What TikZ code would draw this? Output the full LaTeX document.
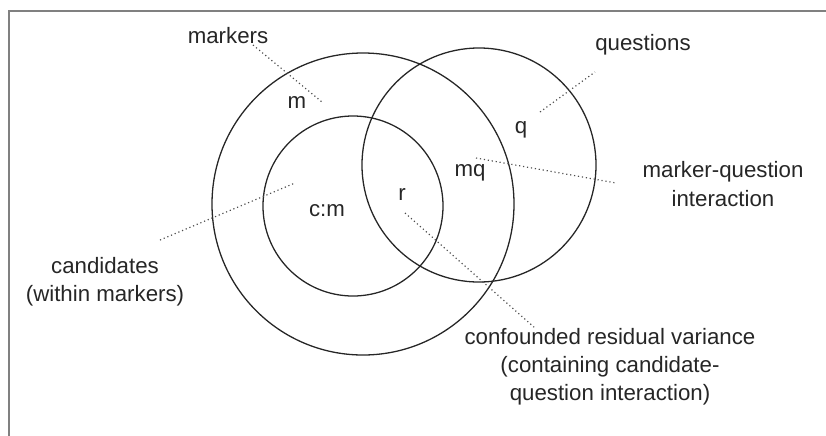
\documentclass[tikz,border=0pt]{standalone}
\usepackage{fontspec}
\setmainfont{Liberation Sans}
\usepackage{xcolor}
\usetikzlibrary{positioning}

\begin{document}
\begin{tikzpicture}[
  x=0.03cm,y=-0.03cm,
  set/.style={draw=black!85,line width=1.1pt,circle,inner sep=0pt,outer sep=0pt},
  lbl/.style={text=black!85,font=\fontsize{19}{24}\selectfont,align=center,inner sep=1pt},
  leader/.style={draw=black!70,line width=1pt,dash pattern=on 1pt off 2.4pt}
]
\useasboundingbox (0,0) rectangle (826,435);
\draw[gray,line width=1.8pt] (9,440) -- (9,11) -- (830,11);

% the three sets
\node[set,minimum size=9.06cm] (markers) at (363,204) {};
\node[set,minimum size=5.4cm] (cands) at (353,206) {};
\node[set,minimum size=7.02cm] (quest) at (479,165) {};

% region labels
\node[lbl] (m) at (297,103) {m};
\node[lbl] (cm) at (327,211) {c:m};
\node[lbl] (r) at (402,195) {r};
\node[lbl] (q) at (521,130) {q};
\node[lbl] (mq) at (470,173) {mq};

% outer labels
\node[lbl] (lmarkers) at (228,36) {markers};
\node[lbl] (lquest) at (643,45) {questions};
\node[lbl] (lmq) at (723,184) {marker-question\\interaction};
\node[lbl] (lcands) at (105,282) {candidates\\(within markers)};
\node[lbl] (lconf) at (610,367) {confounded residual variance\\(containing candidate-\\question interaction)};

\coordinate (markers-a) at (253,45);
\coordinate (markers-b) at (322,102);
\coordinate (cands-a) at (160,240);
\coordinate (cands-b) at (295,183);
\coordinate (quest-a) at (540,112);
\coordinate (quest-b) at (595,72);
\coordinate (mq-a) at (476,158);
\coordinate (mq-b) at (616,183);
\coordinate (conf-a) at (405,213);
\coordinate (conf-b) at (535,328);

\draw[leader] (markers-a) -- (markers-b);
\draw[leader] (cands-a) -- (cands-b);
\draw[leader] (quest-a) -- (quest-b);
\draw[leader] (mq-a) -- (mq-b);
\draw[leader] (conf-a) -- (conf-b);
\end{tikzpicture}
\end{document}
